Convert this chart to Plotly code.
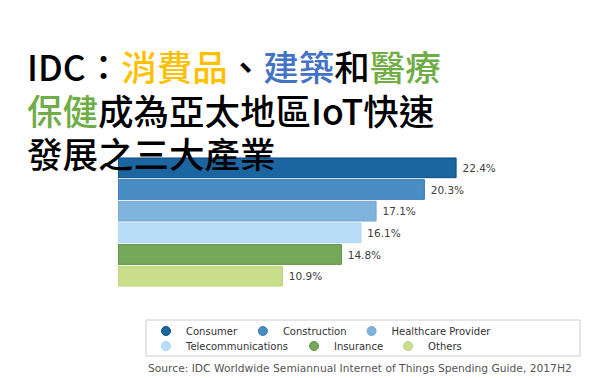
import plotly.graph_objects as go

categories = ["Consumer", "Construction", "Healthcare Provider",
              "Telecommunications", "Insurance", "Others"]
values = [22.4, 20.3, 17.1, 16.1, 14.8, 10.9]
bar_colors = ["#1b65a1", "#4a8dc3", "#7fb3dd", "#b8ddf9", "#76a859", "#c8de8b"]
line_colors = ["#0e4a82", "#3a7cb4", "#72a8d4", "#b0d6f4", "#5e9044", "#bcd47d"]
legend_groups = ["legend", "legend", "legend", "legend2", "legend2", "legend2"]
title_lines = [
    'IDC：<span style="color:#ffc000">消費品</span>、<span style="color:#4472c4">建築</span>和<span style="color:#70ad47">醫療</span>',
    '<span style="color:#70ad47">保健</span>成為亞太地區IoT快速',
    '發展之三大產業',
]
source_text = "Source: IDC Worldwide Semiannual Internet of Things Spending Guide, 2017H2"

W, H = 602, 378
L, T = 118, 157
plot_w, plot_h = 483, 130

fig = go.Figure()
fig.add_trace(go.Bar(
    y=categories, x=values, orientation="h",
    marker=dict(color=bar_colors, line=dict(color=line_colors, width=1)),
    text=[f"\u00a0{v:.1f}%" for v in values], textposition="outside",
    textfont=dict(family="DejaVu Sans", size=10.5, color="#404040"),
    cliponaxis=False, showlegend=False, hoverinfo="skip",
))
for c, col, lc, lg in zip(categories, bar_colors, line_colors, legend_groups):
    fig.add_trace(go.Scatter(
        x=[None], y=[None], mode="markers", name=c, legend=lg,
        marker=dict(symbol="circle", size=9, color=col, line=dict(color=lc, width=1)),
    ))

def cy(py):
    return (T + plot_h - py) / plot_h

def px_x(px):
    return (px - L) / plot_w

for txt, yy in zip(title_lines, [65, 109, 152]):
    fig.add_annotation(text=txt, xref="paper", yref="paper",
                       x=px_x(25), y=cy(yy), xanchor="left", yanchor="middle",
                       align="left", showarrow=False,
                       font=dict(family="Noto Sans CJK TC", size=35.5, color="#000000", weight=500))

fig.add_annotation(text=source_text, xref="paper", yref="paper", x=px_x(146), y=cy(368),
                   xanchor="left", yanchor="middle", showarrow=False,
                   font=dict(family="DejaVu Sans", size=10.7, color="#555555"))

fig.add_shape(type="rect", xref="paper", yref="paper",
              x0=px_x(146), x1=px_x(580), y0=cy(320), y1=cy(356),
              line=dict(color="#cccccc", width=1), fillcolor="rgba(0,0,0,0)")

leg_common = dict(orientation="h", xref="container", yref="container",
                  xanchor="left", yanchor="middle", bgcolor="rgba(0,0,0,0)",
                  font=dict(family="DejaVu Sans", size=10, color="#333333"),
                  borderwidth=0, itemclick=False)
fig.update_layout(
    legend=dict(x=146 / W, y=1 - 331 / H, **leg_common),
    legend2=dict(x=146 / W, y=1 - 346 / H, **leg_common),
)

fig.update_layout(
    width=W, height=H,
    margin=dict(l=L, r=W - L - plot_w, t=T, b=H - T - plot_h, pad=0),
    paper_bgcolor="white", plot_bgcolor="white",
    bargap=0.09,
    xaxis=dict(range=[0, 32], visible=False, fixedrange=True),
    yaxis=dict(autorange="reversed", visible=False, fixedrange=True,
               categoryorder="array", categoryarray=categories),
)

fig.write_html("out.html", config={"displayModeBar": False},
               post_script="document.body.style.margin='0px';document.body.style.overflow='hidden';")
